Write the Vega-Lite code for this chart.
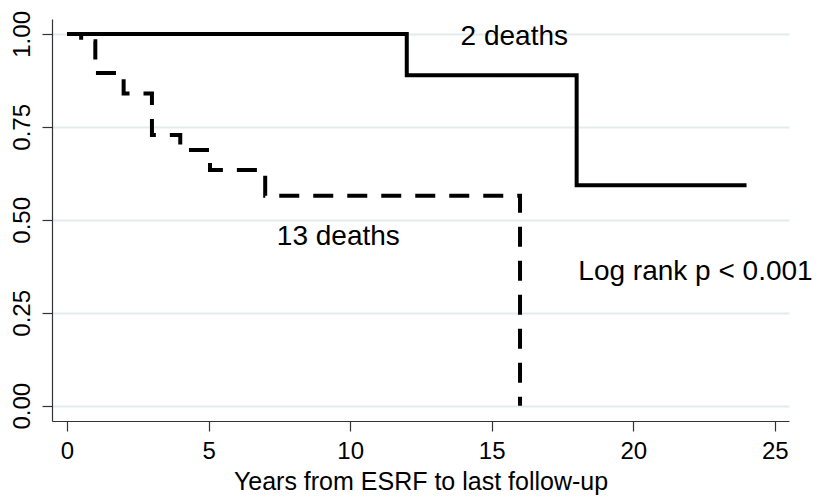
{
  "$schema": "https://vega.github.io/schema/vega-lite/v6.json",
  "autosize": "none",
  "width": 737,
  "height": 402,
  "padding": {"left": 52, "top": 19, "right": 34, "bottom": 77},
  "background": "white",
  "config": {
    "view": {"stroke": null},
    "font": "Liberation Sans",
    "axis": {
      "domainColor": "#333333",
      "domainWidth": 1.2,
      "tickColor": "#333333",
      "tickWidth": 1.2,
      "tickSize": 10,
      "labelFont": "Liberation Sans",
      "labelFontSize": 24,
      "labelColor": "#000000",
      "titleFont": "Liberation Sans",
      "titleFontSize": 25,
      "titleFontWeight": "normal",
      "titleColor": "#000000",
      "gridColor": "#e3ecec",
      "gridWidth": 2
    }
  },
  "datasets": {
    "curves": [
      {"group": "A", "years": 0, "survival": 1.0},
      {"group": "A", "years": 12, "survival": 0.889},
      {"group": "A", "years": 18, "survival": 0.593},
      {"group": "A", "years": 24, "survival": 0.593},
      {"group": "B", "years": 0, "survival": 1.0},
      {"group": "B", "years": 0.5, "survival": 0.98},
      {"group": "B", "years": 1, "survival": 0.895},
      {"group": "B", "years": 2, "survival": 0.84},
      {"group": "B", "years": 3, "survival": 0.728},
      {"group": "B", "years": 4, "survival": 0.688},
      {"group": "B", "years": 5.05, "survival": 0.634},
      {"group": "B", "years": 7, "survival": 0.565},
      {"group": "B", "years": 16, "survival": 0.0}
    ],
    "labels": [
      {"years": 13.9, "survival": 0.97, "text": "2 deaths"},
      {"years": 7.41, "survival": 0.432, "text": "13 deaths"},
      {"years": 18.06, "survival": 0.338, "text": "Log rank p < 0.001"}
    ]
  },
  "layer": [
    {
      "data": {"name": "curves"},
      "mark": {"type": "line", "interpolate": "step-after", "color": "black", "strokeWidth": 4, "clip": true},
      "encoding": {
        "x": {
          "field": "years", "type": "quantitative",
          "scale": {"domain": [-0.53, 25.5], "nice": false, "zero": false},
          "axis": {"values": [0, 5, 10, 15, 20, 25], "grid": false, "title": "Years from ESRF to last follow-up", "labelPadding": 8, "titlePadding": 6}
        },
        "y": {
          "field": "survival", "type": "quantitative",
          "scale": {"domain": [-0.041, 1.04], "nice": false, "zero": false},
          "axis": {"values": [0, 0.25, 0.5, 0.75, 1], "format": ".2f", "grid": true, "title": null, "labelAngle": 270, "labelAlign": "center", "labelBaseline": "bottom", "labelPadding": 8}
        },
        "detail": {"field": "group"},
        "strokeDash": {
          "field": "group", "type": "nominal",
          "scale": {"domain": ["A", "B"], "range": [[1, 0], [20, 14]]},
          "legend": null
        }
      }
    },
    {
      "data": {"name": "labels"},
      "mark": {"type": "text", "align": "left", "baseline": "alphabetic", "fontSize": 28, "font": "Liberation Sans", "color": "black"},
      "encoding": {
        "x": {"field": "years", "type": "quantitative"},
        "y": {"field": "survival", "type": "quantitative"},
        "text": {"field": "text"}
      }
    }
  ]
}
